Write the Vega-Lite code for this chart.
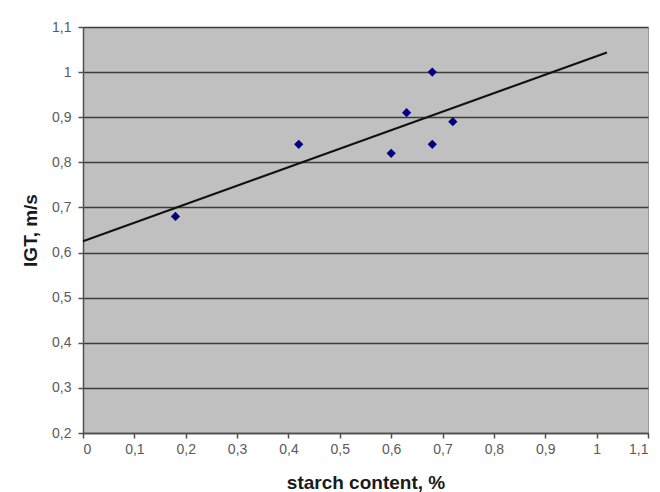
{
  "$schema": "https://vega.github.io/schema/vega-lite/v6.json",
  "autosize": {"type": "none"},
  "padding": {"left": 83, "top": 27, "right": 12, "bottom": 59},
  "width": 565,
  "height": 406,
  "background": "white",
  "config": {
    "view": {"fill": "#c0c0c0", "stroke": "#9a9a9a", "strokeWidth": 1},
    "axis": {
      "labelFont": "Liberation Sans",
      "titleFont": "Liberation Sans",
      "labelFontSize": 14,
      "labelColor": "#5a5a5a",
      "titleFontSize": 19,
      "titleFontWeight": "bold",
      "titleColor": "#1a1a1a",
      "domainColor": "#505050",
      "domainWidth": 1.5,
      "tickColor": "#505050",
      "tickWidth": 1.5,
      "tickSize": 5
    }
  },
  "data": {
    "values": [
      {"starch": 0.18, "igt": 0.68},
      {"starch": 0.42, "igt": 0.84},
      {"starch": 0.60, "igt": 0.82},
      {"starch": 0.63, "igt": 0.91},
      {"starch": 0.68, "igt": 1.00},
      {"starch": 0.68, "igt": 0.84},
      {"starch": 0.72, "igt": 0.89}
    ]
  },
  "encoding": {
    "x": {
      "field": "starch",
      "type": "quantitative",
      "scale": {"domain": [0, 1.1], "nice": false, "zero": false},
      "axis": {
        "title": "starch content, %",
        "values": [0, 0.1, 0.2, 0.3, 0.4, 0.5, 0.6, 0.7, 0.8, 0.9, 1, 1.1],
        "labelExpr": "replace(format(datum.value, '~g'), '.', ',')",
        "grid": false,
        "labelPadding": 4,
        "titlePadding": 17
      }
    },
    "y": {
      "field": "igt",
      "type": "quantitative",
      "scale": {"domain": [0.2, 1.1], "nice": false, "zero": false},
      "axis": {
        "title": "IGT, m/s",
        "values": [0.2, 0.3, 0.4, 0.5, 0.6, 0.7, 0.8, 0.9, 1, 1.1],
        "labelExpr": "replace(format(datum.value, '~g'), '.', ',')",
        "grid": true,
        "gridColor": "#3c3c3c",
        "gridWidth": 1.5,
        "gridOpacity": 1,
        "labelPadding": 7,
        "titlePadding": 11
      }
    }
  },
  "layer": [
    {
      "transform": [{"regression": "igt", "on": "starch", "extent": [0, 1.02]}],
      "mark": {"type": "line", "color": "#111111", "strokeWidth": 2}
    },
    {
      "mark": {"type": "point", "shape": "diamond", "filled": true, "color": "#000080", "size": 85, "opacity": 1}
    }
  ]
}
